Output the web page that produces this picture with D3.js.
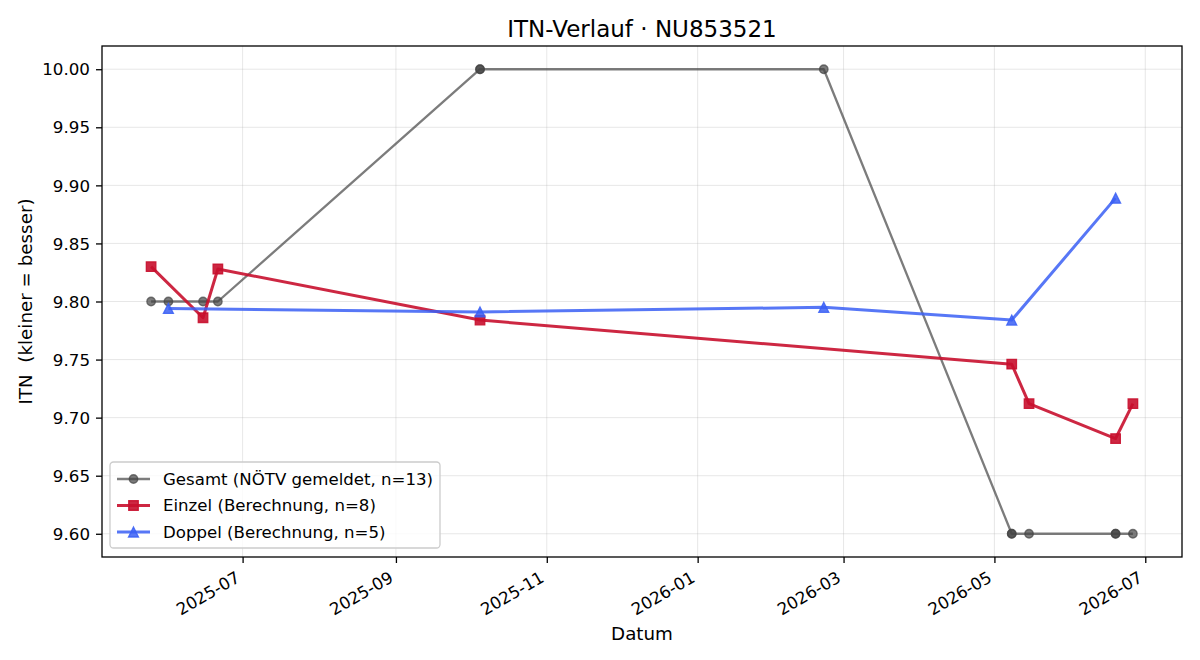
<!DOCTYPE html>
<html>
<head>
<meta charset="utf-8">
<script src="https://cdn.jsdelivr.net/npm/d3@7/dist/d3.min.js"></script>
<style>
    body { margin: 0; background: #fff; }
    text { font-family: "DejaVu Sans", sans-serif; fill: #000; }
</style>
</head>
<body>
<div id="vis"></div>
<script>
// Data
const gesamtDates = ["2025-05-25", "2025-06-01", "2025-06-15", "2025-06-21", "2025-10-05", "2025-10-05", "2026-02-21",
    "2026-05-08", "2026-05-08", "2026-05-15", "2026-06-19", "2026-06-19", "2026-06-26"]
const gesamtValues = [9.80, 9.80, 9.80, 9.80, 10.00, 10.00, 10.00, 9.60, 9.60, 9.60, 9.60, 9.60, 9.60]

const einzelDates = ["2025-05-25", "2025-06-15", "2025-06-21", "2025-10-05", "2026-05-08", "2026-05-15", "2026-06-19", "2026-06-26"]
const einzelValues = [9.830, 9.786, 9.828, 9.784, 9.746, 9.712, 9.682, 9.712]

const doppelDates = ["2025-06-01", "2025-10-05", "2026-02-21", "2026-05-08", "2026-06-19"]
const doppelValues = [9.794, 9.791, 9.795, 9.784, 9.889]

const seriesNames = ["Gesamt (NÖTV gemeldet, n=13)", "Einzel (Berechnung, n=8)", "Doppel (Berechnung, n=5)"]
const xTickLabels = ["2025-07", "2025-09", "2025-11", "2026-01", "2026-03", "2026-05", "2026-07"]
const yTickLabels = ["9.60", "9.65", "9.70", "9.75", "9.80", "9.85", "9.90", "9.95", "10.00"]

const margin = { left: 102, top: 46, right: 18, bottom: 103 }
const width = 1200 - margin.left - margin.right
const height = 660 - margin.top - margin.bottom

const parseDay = d3.timeParse("%Y-%m-%d")
const parseMonth = d3.timeParse("%Y-%m")

let xScale, yScale

function toRows(dates, values) {
    return dates.map((d, i) => ({ Date: parseDay(d), Value: values[i] }))
}

const series = [
    { name: seriesNames[0], rows: toRows(gesamtDates, gesamtValues), color: "#444444", alpha: 0.7, lw: 2.3, marker: "circle", size: 8.5 },
    { name: seriesNames[1], rows: toRows(einzelDates, einzelValues), color: "#c8102e", alpha: 0.9, lw: 3, marker: "square", size: 9.5 },
    { name: seriesNames[2], rows: toRows(doppelDates, doppelValues), color: "#3a5ff5", alpha: 0.85, lw: 3, marker: "triangle", size: 10 }
]

function createScales() {
    // matplotlib style 5% padding on both axes
    let allDates = series.flatMap(s => s.rows.map(r => r.Date))
    let allValues = series.flatMap(s => s.rows.map(r => r.Value))
    let [d0, d1] = d3.extent(allDates)
    let pad = (d1 - d0) * 0.05
    xScale = d3.scaleTime()
        .domain([new Date(+d0 - pad), new Date(+d1 + pad)])
        .range([0, width])
    let [v0, v1] = d3.extent(allValues)
    let vpad = (v1 - v0) * 0.05
    yScale = d3.scaleLinear()
        .domain([v0 - vpad, v1 + vpad])
        .range([height, 0])
}

function markerPath(type, size) {
    if (type === "circle") return d3.symbol(d3.symbolCircle, Math.PI * (size / 2) ** 2)()
    if (type === "square") return d3.symbol(d3.symbolSquare, size * size)()
    // matplotlib '^' : apex up, centred on the half height
    let h = size / 2
    return `M0,${-h}L${h},${h}L${-h},${h}Z`
}

// markers get a thin edge in the same colour, like matplotlib does with alpha
function styleMarker(sel, s) {
    sel.attr("d", markerPath(s.marker, s.size))
        .attr("fill", s.color)
        .attr("fill-opacity", s.alpha)
        .attr("stroke", s.color)
        .attr("stroke-opacity", s.alpha)
        .attr("stroke-width", 1.3)
}

function drawChart() {
    let svg = d3.select("#vis")
        .append("svg")
        .attr("width", 1200)
        .attr("height", 660)

    let g = svg.append("g")
        .attr("transform", "translate(" + margin.left + "," + margin.top + ")")

    let xTicks = xTickLabels.map(parseMonth)
    let yTicks = yTickLabels.map(Number)

    // grid
    g.append("g").selectAll("line").data(xTicks).join("line")
        .attr("x1", d => xScale(d)).attr("x2", d => xScale(d))
        .attr("y1", 0).attr("y2", height)
        .attr("stroke", "#b0b0b0").attr("stroke-opacity", 0.3).attr("stroke-width", 1)
    g.append("g").selectAll("line").data(yTicks).join("line")
        .attr("x1", 0).attr("x2", width)
        .attr("y1", d => yScale(d)).attr("y2", d => yScale(d))
        .attr("stroke", "#b0b0b0").attr("stroke-opacity", 0.3).attr("stroke-width", 1)

    // x axis
    let xAxis = g.append("g")
        .attr("transform", `translate(0,${height})`)
        .call(d3.axisBottom(xScale).tickValues(xTicks).tickFormat(d3.timeFormat("%Y-%m")).tickSize(6).tickPadding(6))
    xAxis.select(".domain").remove()
    xAxis.selectAll(".tick line").attr("stroke", "#000").attr("stroke-width", 1.3)
    xAxis.selectAll("text")
        .style("font-size", "16.7px")
        .attr("text-anchor", "end")
        .attr("dy", 0)
        .attr("y", 0)
        .attr("transform", "translate(-2,24) rotate(-30)")

    // y axis
    let yAxis = g.append("g")
        .call(d3.axisLeft(yScale).tickValues(yTicks).tickFormat(d3.format(".2f")).tickSize(6).tickPadding(6))
    yAxis.select(".domain").remove()
    yAxis.selectAll(".tick line").attr("stroke", "#000").attr("stroke-width", 1.3)
    yAxis.selectAll("text").style("font-size", "16.7px").attr("dy", "0.34em")

    // series
    let line = d3.line()
        .x(d => xScale(d.Date))
        .y(d => yScale(d.Value))

    series.forEach(s => {
        let sg = g.append("g")
        sg.append("path")
            .datum(s.rows)
            .attr("fill", "none")
            .attr("stroke", s.color)
            .attr("stroke-opacity", s.alpha)
            .attr("stroke-width", s.lw)
            .attr("stroke-linejoin", "round")
            .attr("d", line)
        sg.selectAll(".pt").data(s.rows).join("path")
            .attr("class", "pt")
            .attr("transform", d => `translate(${xScale(d.Date)},${yScale(d.Value)})`)
            .call(styleMarker, s)
    })

    // frame
    g.append("rect")
        .attr("width", width).attr("height", height)
        .attr("fill", "none").attr("stroke", "#000").attr("stroke-width", 1.3)

    // legend (lower left)
    let leg = g.append("g").attr("transform", `translate(8,${height - 95})`)
    leg.append("rect")
        .attr("width", 330).attr("height", 86)
        .attr("rx", 3.5)
        .attr("fill", "#fff").attr("fill-opacity", 0.8)
        .attr("stroke", "#cccccc").attr("stroke-width", 1.3)
    series.forEach((s, i) => {
        let row = leg.append("g").attr("transform", `translate(7,${17 + i * 26.5})`)
        row.append("line")
            .attr("x1", 0).attr("x2", 33)
            .attr("stroke", s.color).attr("stroke-opacity", s.alpha).attr("stroke-width", s.lw)
        row.append("path")
            .attr("transform", "translate(16.5,0)")
            .call(styleMarker, s)
        row.append("text")
            .attr("x", 46)
            .attr("dy", "0.35em")
            .style("font-size", "16.6px")
            .text(s.name)
    })

    // title and axis labels
    svg.append("text")
        .attr("x", margin.left + width / 2)
        .attr("y", 36.5)
        .attr("text-anchor", "middle")
        .style("font-size", "23px")
        .text("ITN-Verlauf · NU853521")

    svg.append("text")
        .attr("x", margin.left + width / 2)
        .attr("y", 639.5)
        .attr("text-anchor", "middle")
        .style("font-size", "18.3px")
        .text("Datum")

    svg.append("text")
        .attr("transform", `translate(31.7,${margin.top + height / 2}) rotate(-90)`)
        .attr("text-anchor", "middle")
        .style("font-size", "18.3px")
        .style("white-space", "pre")
        .text("ITN  (kleiner = besser)")
}

createScales()
drawChart()
</script>
</body>
</html>
